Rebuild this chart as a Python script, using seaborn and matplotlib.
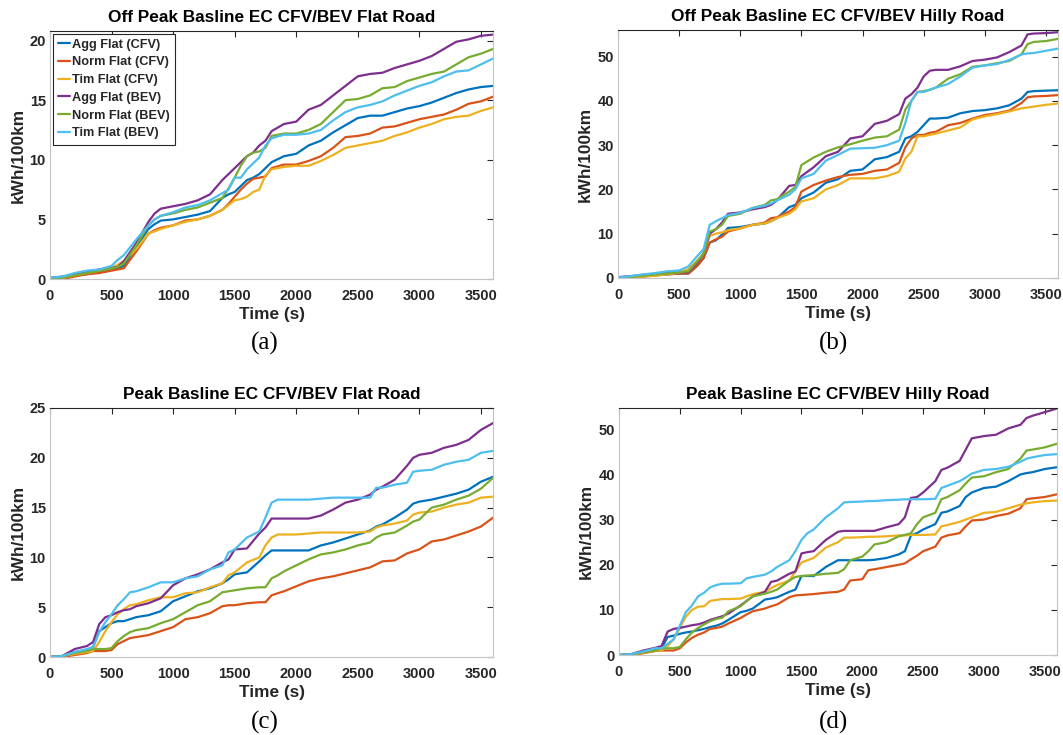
import numpy as np
import pandas as pd
import seaborn as sns
import matplotlib
matplotlib.use("Agg")
import matplotlib.pyplot as plt

# ---------------------------------------------------------------- data
series_names = ["Agg Flat (CFV)", "Norm Flat (CFV)", "Tim Flat (CFV)",
                "Agg Flat (BEV)", "Norm Flat (BEV)", "Tim Flat (BEV)"]
series_colors = ["#0072BD", "#D95319", "#EDB120", "#7E2F8E", "#77AC30", "#4DBEEE"]

# (a) Off peak, flat road
t_a = [0, 100, 200, 300, 400, 500, 550, 600, 700, 800, 850, 900,
       1000, 1100, 1200, 1300, 1400, 1450, 1500, 1550, 1600, 1650, 1700, 1750, 1800,
       1900, 2000, 2100, 2200, 2300, 2400, 2500, 2600, 2700, 2800, 2900, 3000,
       3100, 3200, 3300, 3400, 3500, 3600]
agg_cfv_a = [0, 0.1, 0.3, 0.4, 0.6, 0.8, 0.9, 1.1, 2.7, 4.2, 4.6, 4.9,
             5.0, 5.2, 5.4, 5.7, 6.8, 7.1, 7.3, 7.8, 8.3, 8.5, 8.8, 9.3, 9.8,
             10.3, 10.5, 11.2, 11.6, 12.3, 12.9, 13.5, 13.7, 13.7, 14.0, 14.3, 14.5,
             14.8, 15.2, 15.6, 15.9, 16.1, 16.2]
norm_cfv_a = [0, 0.0, 0.2, 0.4, 0.5, 0.7, 0.8, 0.9, 2.3, 3.8, 4.1, 4.3,
              4.5, 4.9, 5.0, 5.3, 5.8, 6.3, 6.9, 7.5, 8.0, 8.4, 8.5, 8.6, 9.3,
              9.6, 9.6, 9.9, 10.3, 11.0, 11.9, 12.0, 12.2, 12.7, 12.8, 13.1, 13.4,
              13.6, 13.8, 14.2, 14.7, 14.9, 15.3]
tim_cfv_a = [0, 0.1, 0.3, 0.5, 0.7, 0.9, 1.2, 1.5, 2.5, 3.8, 4.0, 4.2,
             4.5, 4.8, 5.0, 5.3, 5.8, 6.2, 6.6, 6.7, 6.9, 7.3, 7.5, 8.7, 9.2,
             9.4, 9.5, 9.5, 9.9, 10.4, 11.0, 11.2, 11.4, 11.6, 12.0, 12.3, 12.7,
             13.0, 13.4, 13.6, 13.7, 14.1, 14.4]
agg_bev_a = [0.1, 0.2, 0.4, 0.6, 0.8, 0.95, 1.0, 1.5, 3.0, 4.8, 5.5, 5.9,
             6.1, 6.3, 6.6, 7.1, 8.3, 8.8, 9.3, 9.8, 10.3, 10.6, 11.2, 11.6, 12.4,
             13.0, 13.2, 14.2, 14.6, 15.4, 16.2, 17.0, 17.2, 17.3, 17.7, 18.0, 18.3,
             18.7, 19.3, 19.9, 20.1, 20.4, 20.5]
norm_bev_a = [0, 0.1, 0.3, 0.5, 0.7, 0.9, 1.0, 1.3, 2.8, 4.5, 5.0, 5.3,
              5.5, 5.8, 6.0, 6.4, 6.8, 7.6, 8.5, 9.5, 10.3, 10.6, 10.7, 11.0, 12.0,
              12.2, 12.2, 12.5, 13.0, 14.0, 15.0, 15.1, 15.4, 16.0, 16.1, 16.6, 16.9,
              17.2, 17.4, 18.0, 18.6, 18.9, 19.3]
tim_bev_a = [0.1, 0.2, 0.5, 0.7, 0.8, 1.1, 1.6, 2.0, 3.3, 4.5, 5.0, 5.3,
             5.6, 6.0, 6.2, 6.6, 7.2, 7.5, 8.5, 8.5, 9.2, 9.7, 10.2, 11.2, 11.8,
             12.1, 12.1, 12.2, 12.5, 13.3, 14.0, 14.4, 14.6, 14.9, 15.4, 15.8, 16.2,
             16.5, 17.0, 17.4, 17.5, 18.0, 18.5]

# (b) Off peak, hilly road
t_b = [0, 100, 200, 300, 400, 500, 575, 650, 700, 750, 800, 850, 900,
       1000, 1100, 1200, 1250, 1300, 1400, 1450, 1500,
       1600, 1700, 1800, 1900, 2000, 2100, 2200, 2300,
       2350, 2400, 2450, 2500, 2550, 2600,
       2700, 2800, 2900, 3000, 3100, 3200, 3300,
       3350, 3400, 3500, 3600]
agg_cfv_b = [0, 0.2, 0.4, 0.6, 0.8, 1.0, 1.0, 2.8, 4.5, 8.0, 8.5, 9.8, 11.3,
             11.5, 12.0, 12.3, 12.8, 13.5, 16.0, 16.5, 18.0,
             19.3, 21.5, 22.3, 24.2, 24.5, 26.8, 27.3, 28.5,
             31.5, 32.0, 33.0, 34.5, 36.0, 36.0,
             36.2, 37.2, 37.7, 37.9, 38.3, 39.0, 40.5,
             42.0, 42.2, 42.3, 42.4]
norm_cfv_b = [0, 0.1, 0.3, 0.6, 0.8, 1.0, 1.0, 2.8, 4.5, 8.0, 8.7, 9.3, 10.5,
              11.2, 12.0, 12.5, 13.5, 13.7, 15.0, 16.0, 19.5,
              21.0, 22.0, 22.8, 23.3, 23.5, 24.2, 24.5, 26.0,
              29.5, 31.5, 32.3, 32.3, 32.8, 33.0,
              34.5, 35.0, 36.0, 36.8, 37.2, 37.8, 39.5,
              40.8, 41.0, 41.1, 41.3]
tim_cfv_b = [0, 0.1, 0.3, 0.5, 0.8, 1.2, 2.0, 4.0, 5.5, 9.5, 10.0, 10.3, 10.8,
             11.2, 12.0, 12.3, 12.8, 13.5, 14.5, 15.5, 17.3,
             18.0, 20.0, 21.0, 22.5, 22.5, 22.5, 23.0, 24.0,
             27.0, 28.5, 32.0, 32.0, 32.3, 32.6,
             33.3, 34.0, 35.8, 36.5, 37.0, 37.6, 38.3,
             38.5, 38.7, 39.1, 39.4]
agg_bev_b = [0.2, 0.4, 0.7, 0.9, 1.1, 1.3, 1.3, 3.5, 5.5, 10.0, 11.0, 12.5, 14.5,
             14.8, 15.5, 16.0, 16.5, 17.5, 20.8, 21.0, 23.0,
             25.0, 27.5, 28.5, 31.5, 32.0, 34.8, 35.5, 37.0,
             40.5, 41.5, 43.0, 45.5, 46.8, 47.0,
             47.0, 47.8, 49.0, 49.3, 49.8, 51.0, 52.5,
             55.0, 55.2, 55.3, 55.5]
norm_bev_b = [0, 0.2, 0.5, 0.8, 1.0, 1.3, 1.5, 3.8, 5.5, 10.5, 11.0, 12.0, 14.0,
              14.5, 15.8, 16.5, 17.5, 17.8, 19.5, 20.5, 25.5,
              27.2, 28.5, 29.5, 30.2, 31.0, 31.7, 32.0, 33.5,
              38.0, 40.0, 42.0, 42.2, 42.5, 43.0,
              45.0, 46.0, 47.7, 48.0, 48.5, 49.0, 50.5,
              52.8, 53.3, 53.5, 54.0]
tim_bev_b = [0.1, 0.4, 0.8, 1.1, 1.5, 1.7, 2.6, 5.0, 6.5, 12.0, 12.8, 13.5, 14.2,
             14.7, 15.8, 16.3, 16.8, 17.5, 18.8, 20.0, 22.5,
             23.5, 26.5, 27.8, 29.2, 29.3, 29.4, 30.0, 31.0,
             35.0, 40.0, 42.0, 42.0, 42.5, 43.0,
             43.8, 45.5, 47.5, 48.0, 48.3, 49.2, 50.5,
             50.7, 50.8, 51.3, 51.8]

# (c) Peak, flat road
t_c = [0, 100, 200, 300, 350, 400, 450, 500, 550, 600, 650, 700,
       800, 900, 1000, 1100, 1200, 1300, 1400, 1450, 1500,
       1600, 1700, 1750, 1800, 1850,
       1900, 2000, 2100, 2200, 2300, 2400, 2500, 2600,
       2650, 2700, 2800, 2900, 2950,
       3000, 3100, 3200, 3300, 3400, 3500, 3600]
agg_cfv_c = [0, 0.1, 0.5, 0.7, 1.0, 2.6, 3.0, 3.4, 3.6, 3.6, 3.8, 4.0,
             4.2, 4.6, 5.6, 6.1, 6.6, 6.9, 7.4, 7.8, 8.3,
             8.5, 9.6, 10.2, 10.7, 10.7,
             10.7, 10.7, 10.7, 11.2, 11.5, 11.9, 12.3, 12.7,
             13.1, 13.3, 14.0, 14.8, 15.4,
             15.6, 15.8, 16.1, 16.4, 16.8, 17.6, 18.1]
norm_cfv_c = [0, 0.0, 0.2, 0.4, 0.6, 0.6, 0.6, 0.7, 1.3, 1.6, 1.9, 2.0,
              2.2, 2.6, 3.0, 3.8, 4.0, 4.4, 5.1, 5.2, 5.2,
              5.4, 5.5, 5.5, 6.2, 6.4,
              6.6, 7.1, 7.6, 7.9, 8.1, 8.4, 8.7, 9.0,
              9.3, 9.6, 9.7, 10.4, 10.6,
              10.8, 11.6, 11.8, 12.2, 12.6, 13.1, 14.0]
tim_cfv_c = [0, 0.1, 0.3, 0.5, 0.6, 1.5, 2.6, 3.5, 4.3, 4.8, 5.2, 5.3,
             5.7, 6.0, 6.0, 6.4, 6.5, 7.0, 7.4, 8.2, 8.5,
             9.5, 10.0, 11.2, 12.0, 12.3,
             12.3, 12.3, 12.4, 12.5, 12.5, 12.5, 12.5, 12.6,
             13.0, 13.2, 13.4, 13.7, 14.3,
             14.5, 14.6, 15.0, 15.3, 15.5, 16.0, 16.1]
agg_bev_c = [0, 0.1, 0.8, 1.1, 1.5, 3.3, 4.0, 4.2, 4.5, 4.7, 4.8, 5.1,
             5.4, 5.9, 7.2, 7.9, 8.3, 8.8, 9.5, 9.8, 10.8,
             10.9, 12.4, 13.0, 13.9, 13.9,
             13.9, 13.9, 13.9, 14.2, 14.8, 15.5, 15.8, 16.3,
             16.8, 17.1, 17.8, 19.2, 20.0,
             20.3, 20.5, 21.0, 21.3, 21.8, 22.8, 23.5]
norm_bev_c = [0, 0.1, 0.4, 0.6, 0.8, 0.8, 0.8, 0.9, 1.6, 2.1, 2.5, 2.7,
              2.9, 3.4, 3.8, 4.5, 5.2, 5.6, 6.5, 6.6, 6.7,
              6.9, 7.0, 7.0, 7.9, 8.2,
              8.6, 9.2, 9.8, 10.3, 10.5, 10.8, 11.2, 11.5,
              12.0, 12.3, 12.5, 13.2, 13.6,
              13.8, 15.0, 15.3, 15.8, 16.2, 16.9, 18.0]
tim_bev_c = [0, 0.1, 0.5, 0.8, 1.0, 2.5, 3.5, 4.3, 5.2, 5.8, 6.5, 6.6,
             7.0, 7.5, 7.5, 7.9, 8.1, 8.8, 9.2, 10.5, 10.8,
             12.0, 12.6, 14.0, 15.5, 15.8,
             15.8, 15.8, 15.8, 15.9, 16.0, 16.0, 16.0, 16.0,
             17.0, 17.0, 17.3, 17.5, 18.6,
             18.7, 18.8, 19.3, 19.6, 19.8, 20.5, 20.7]

# (d) Peak, hilly road
t_d = [0, 100, 200, 300, 350, 400, 450, 500, 550, 600, 650, 700, 750, 800, 850, 900,
       1000, 1050, 1100, 1200, 1250, 1300,
       1400, 1450, 1500, 1550, 1600,
       1700, 1800, 1850, 1900,
       2000, 2050, 2100, 2200, 2300, 2350,
       2400, 2450, 2500, 2600, 2650, 2700,
       2800, 2850, 2900, 3000,
       3100, 3200, 3300, 3350, 3400, 3500, 3600]
agg_cfv_d = [0, 0.1, 0.6, 1.2, 1.5, 4.0, 4.3, 4.7, 5.0, 5.2, 5.5, 5.8, 6.2, 6.5, 7.0, 7.8,
             9.5, 9.8, 10.3, 12.3, 12.5, 12.8,
             14.0, 14.5, 17.5, 17.5, 17.5,
             19.5, 21.0, 21.0, 21.0,
             21.0, 21.0, 21.1, 21.5, 22.3, 23.0,
             26.5, 27.0, 27.8, 29.0, 31.5, 31.8,
             33.0, 35.0, 36.0, 37.0,
             37.3, 38.5, 40.0, 40.3, 40.5, 41.2, 41.6]
norm_cfv_d = [0, 0.0, 0.4, 0.9, 1.0, 1.0, 1.0, 1.5, 2.8, 3.8, 4.5, 5.0, 5.8, 6.0, 6.3, 7.0,
              8.2, 9.0, 9.7, 10.3, 10.8, 11.2,
              12.8, 13.2, 13.3, 13.4, 13.5,
              13.8, 14.0, 14.5, 16.5,
              16.8, 18.8, 19.0, 19.5, 20.0, 20.3,
              21.2, 22.0, 23.0, 24.0, 26.0, 26.5,
              27.0, 28.5, 29.8, 30.0,
              30.8, 31.3, 32.5, 34.5, 34.7, 35.0, 35.6]
tim_cfv_d = [0, 0.1, 0.5, 1.0, 1.0, 2.0, 3.5, 6.0, 8.5, 10.0, 10.7, 10.8, 12.0, 12.2, 12.4, 12.4,
             12.5, 13.0, 13.5, 14.0, 14.8, 15.5,
             16.5, 18.5, 20.5, 21.0, 21.5,
             23.8, 25.0, 26.0, 26.0,
             26.1, 26.2, 26.2, 26.3, 26.5, 26.5,
             26.6, 26.6, 26.6, 26.7, 28.5, 28.8,
             29.5, 30.0, 30.5, 31.5,
             31.7, 32.5, 33.3, 33.6, 33.8, 34.1, 34.2]
agg_bev_d = [0, 0.2, 1.0, 1.6, 2.0, 5.2, 5.8, 6.0, 6.3, 6.6, 6.8, 7.2, 7.8, 8.2, 8.6, 9.2,
             11.0, 12.0, 13.0, 14.0, 16.2, 16.5,
             18.0, 18.5, 22.5, 22.8, 23.0,
             25.5, 27.3, 27.5, 27.5,
             27.5, 27.5, 27.5, 28.3, 29.0, 30.5,
             34.8, 35.0, 36.0, 38.5, 41.0, 41.5,
             43.0, 45.5, 48.0, 48.5,
             48.8, 50.2, 51.0, 52.5, 53.0, 53.8, 54.6]
norm_bev_d = [0, 0.1, 0.6, 1.0, 1.5, 1.5, 1.5, 1.8, 3.5, 5.0, 6.0, 6.8, 7.5, 8.0, 8.3, 9.7,
              10.8, 12.0, 13.0, 13.6, 14.0, 14.5,
              16.5, 17.3, 17.5, 17.6, 17.7,
              18.0, 18.2, 19.0, 21.0,
              21.8, 23.0, 24.5, 25.0, 26.3, 26.6,
              27.0, 29.0, 30.5, 31.5, 34.5, 35.0,
              36.5, 38.0, 39.3, 39.6,
              40.5, 41.2, 43.5, 45.3, 45.5, 46.0, 46.8]
tim_bev_d = [0, 0.2, 0.8, 1.5, 1.5, 2.5, 3.5, 6.5, 9.5, 11.0, 13.0, 13.8, 15.0, 15.5, 15.8, 15.8,
             15.9, 17.0, 17.3, 17.8, 18.5, 19.5,
             21.0, 23.0, 25.5, 27.0, 27.8,
             30.5, 32.5, 33.8, 33.9,
             34.0, 34.1, 34.1, 34.3, 34.4, 34.5,
             34.5, 34.5, 34.5, 34.6, 37.0, 37.5,
             38.5, 39.3, 40.2, 41.0,
             41.2, 41.7, 42.8, 43.5, 43.8, 44.3, 44.5]

panel_titles = ["Off Peak Basline EC CFV/BEV Flat Road",
                "Off Peak Basline EC CFV/BEV Hilly Road",
                "Peak Basline EC CFV/BEV Flat Road",
                "Peak Basline EC CFV/BEV Hilly Road"]
panel_tags = ["(a)", "(b)", "(c)", "(d)"]
x_label = "Time (s)"
y_label = "kWh/100km"

# ---------------------------------------------------------------- frames
panels = [
    (t_a, [agg_cfv_a, norm_cfv_a, tim_cfv_a, agg_bev_a, norm_bev_a, tim_bev_a]),
    (t_b, [agg_cfv_b, norm_cfv_b, tim_cfv_b, agg_bev_b, norm_bev_b, tim_bev_b]),
    (t_c, [agg_cfv_c, norm_cfv_c, tim_cfv_c, agg_bev_c, norm_bev_c, tim_bev_c]),
    (t_d, [agg_cfv_d, norm_cfv_d, tim_cfv_d, agg_bev_d, norm_bev_d, tim_bev_d]),
]


def long_frame(t, cols):
    parts = []
    for name, vals in zip(series_names, cols):
        parts.append(pd.DataFrame({"time": t, "ec": vals, "series": name}))
    return pd.concat(parts, ignore_index=True)


frames = [long_frame(t, cols) for t, cols in panels]

# ---------------------------------------------------------------- style
sns.set_theme(style="white")
plt.rcParams["font.family"] = ["Liberation Sans", "DejaVu Sans"]
plt.rcParams["font.weight"] = "bold"
plt.rcParams["axes.labelweight"] = "bold"
plt.rcParams["axes.titleweight"] = "bold"

INK = "#262626"
FRAME = "#c4c4c4"
LW = 1.6

fig = plt.figure(figsize=(10.63, 7.35), dpi=100)
fig.patch.set_facecolor("white")

# axes rectangles (left, bottom, width, height) in figure fractions
rects = [
    (0.047, 0.6204, 0.417, 0.3374),
    (0.5814, 0.6218, 0.414, 0.3374),
    (0.047, 0.1061, 0.417, 0.3388),
    (0.5823, 0.1088, 0.412, 0.3360),
]
y_limits = [(0, 20.8), (0, 56.0), (0, 25.0), (0, 54.7)]
y_ticks = [[0, 5, 10, 15, 20], [0, 10, 20, 30, 40, 50],
           [0, 5, 10, 15, 20, 25], [0, 10, 20, 30, 40, 50]]
tag_pos = [(265, 343), (833, 343), (265, 722), (833, 722)]

palette = dict(zip(series_names, series_colors))

for i, (rect, df) in enumerate(zip(rects, frames)):
    ax = fig.add_axes(rect)
    sns.lineplot(data=df, x="time", y="ec", hue="series", hue_order=series_names,
                 palette=palette, linewidth=LW, ax=ax, legend=(i == 0))
    ax.set_xlim(0, 3600)
    ax.set_ylim(*y_limits[i])
    ax.set_xticks([0, 500, 1000, 1500, 2000, 2500, 3000, 3500])
    ax.set_yticks(y_ticks[i])
    ax.set_title(panel_titles[i], fontsize=12.4, fontweight="bold", color="black", pad=6.5)
    ax.set_xlabel(x_label, fontsize=12.4, fontweight="bold", color=INK, labelpad=3)
    ax.set_ylabel(y_label, fontsize=12.4, fontweight="bold", color=INK, labelpad=3)
    ax.tick_params(direction="in", length=4, width=0.8, top=True, right=True,
                   labelsize=10.5, colors=INK)
    ax.tick_params(axis="x", pad=7.3)
    ax.tick_params(axis="y", pad=3)
    for lab in ax.get_xticklabels() + ax.get_yticklabels():
        lab.set_fontweight("bold")
    for name, sp in ax.spines.items():
        sp.set_visible(True)
        sp.set_linewidth(0.8)
        sp.set_color(INK if name == "top" else FRAME)
    if i == 0:
        leg = ax.legend(loc="upper left", bbox_to_anchor=(0.0, 1.0), borderaxespad=0.2,
                        fontsize=9.2, handlelength=1.0, handletextpad=0.1,
                        labelspacing=0.45, borderpad=0.4, fancybox=False,
                        framealpha=1.0, edgecolor=INK, title=None)
        leg.get_frame().set_linewidth(0.8)
        for txt in leg.get_texts():
            txt.set_fontweight("bold")
        for ln in leg.get_lines():
            ln.set_linewidth(LW)
    fig.text(tag_pos[i][0] / 1063, 1 - tag_pos[i][1] / 735, panel_tags[i],
             ha="center", va="center", fontsize=18,
             family=["Liberation Serif", "DejaVu Serif"],
             fontweight="normal", color="black")

fig.savefig("out.png", dpi=100, facecolor="white")
